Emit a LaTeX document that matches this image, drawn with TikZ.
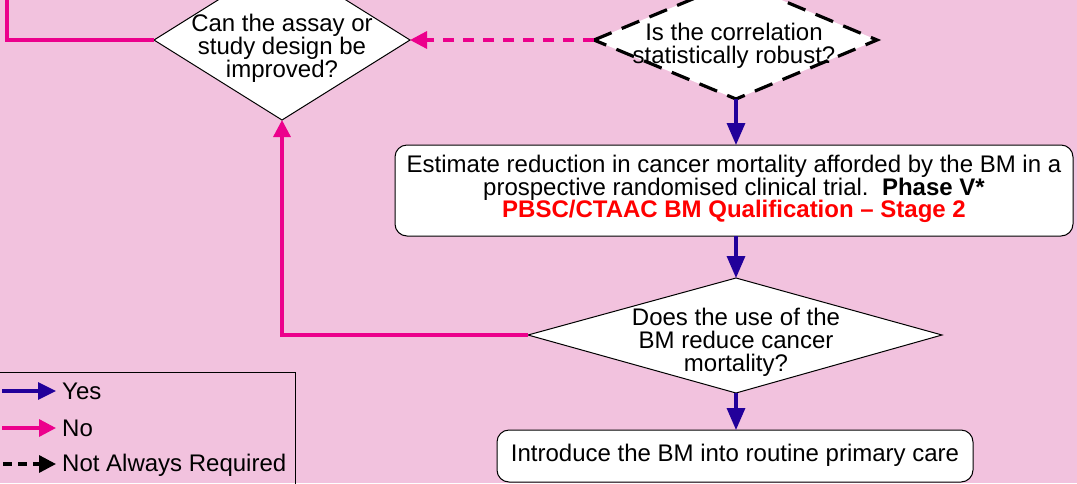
\documentclass[tikz,border=0pt]{standalone}
\usepackage{fontspec}
\setmainfont{Liberation Sans}
\usetikzlibrary{arrows.meta}
\definecolor{bg}{RGB}{242,194,222}
\definecolor{nopink}{RGB}{236,0,140}
\definecolor{yesblue}{RGB}{34,0,154}
\definecolor{qred}{RGB}{255,0,0}
\tikzset{
  x=1pt,y=-1pt,
  txt/.style={font=\fontsize{24}{22.8}\selectfont,align=center,inner sep=0pt},
  dia/.style={draw=black,fill=white,line width=1pt},
  diadash/.style={draw=black,fill=white,line width=3.2pt,dash pattern=on 19pt off 11pt},
  rbox/.style={draw=black,fill=white,line width=1pt,rounded corners=12pt},
  yesarrow/.style={draw=yesblue,line width=3.3pt,-{Triangle[length=22pt,width=18pt]}},
  noarrow/.style={draw=nopink,line width=3.3pt,-{Triangle[length=17pt,width=17pt]}},
  noline/.style={draw=nopink,line width=3.3pt},
  nodash/.style={noarrow,dash pattern=on 11pt off 9pt},
  blackdash/.style={draw=black,line width=3.3pt,dash pattern=on 9pt off 6pt,-{Triangle[length=17pt,width=17pt]}},
}
\begin{document}
\begin{tikzpicture}
\useasboundingbox (0,0) rectangle (1077,483);
\clip (0,0) rectangle (1077,483);
\fill[bg] (0,0) rectangle (1077,483);

% diamond 1: Can the assay...
\coordinate (d1l) at (154,40);
\coordinate (d1r) at (410,40);
\coordinate (d1b) at (282,120);
\coordinate (d1t) at (282,-40);
\path[dia] (d1l) -- (d1t) -- (d1r) -- (d1b) -- cycle;
\node[txt] (d1) at (282,48) {Can the assay or\\study design be\\improved?};

% diamond 2: Is the correlation...
\coordinate (d2l) at (594,40);
\coordinate (d2r) at (877,40);
\coordinate (d2b) at (736,99);
\coordinate (d2t) at (736,-19);
\path[diadash] (d2l) -- (d2t) -- (d2r) -- (d2b) -- cycle;
\node[txt] (d2) at (734,46) {Is the correlation\\statistically robust?};

% box 1
\node[rbox,minimum width=678pt,minimum height=91pt,inner sep=0pt] (b1) at (734,190.5) {};
\node[txt] (b1t) at (734,189) {Estimate reduction in cancer mortality afforded by the BM in a\\prospective randomised clinical trial.\ \ \textbf{Phase V*}\\\textcolor{qred}{\textbf{PBSC/CTAAC BM Qualification -- Stage 2}}};

% diamond 3
\coordinate (d3l) at (528,335);
\coordinate (d3r) at (942,335);
\coordinate (d3t) at (736,278);
\coordinate (d3b) at (736,393);
\path[dia] (d3l) -- (d3t) -- (d3r) -- (d3b) -- cycle;
\node[txt] (d3) at (736,342) {Does the use of the\\BM reduce cancer\\mortality?};

% box 2
\node[rbox,minimum width=476pt,minimum height=52pt,inner sep=0pt] (b2) at (735,456) {};
\node[txt] (b2t) at (735,455) {Introduce the BM into routine primary care};

% connectors
\coordinate (topleft) at (7,-5);
\draw[noline] (d1l) -- (7,40) -- (topleft);
\draw[nodash] (d2l) -- (d1r);
\draw[yesarrow] (d2b) -- (736,145);
\draw[yesarrow] (736,236) -- (d3t);
\draw[noarrow] (d3l) -- (282,335) -- (d1b);
\draw[yesarrow] (d3b) -- (736,430);

% legend
\node[draw=black,line width=1pt,minimum width=296pt,minimum height=130pt,inner sep=0pt,anchor=north west] (leg) at (-1,372) {};
\coordinate (ly1) at (2,391);
\coordinate (ly2) at (56,391);
\coordinate (ln1) at (2,428);
\coordinate (ln2) at (56,428);
\coordinate (lb1) at (3,464);
\coordinate (lb2) at (56,464);
\draw[draw=yesblue,line width=3.3pt,-{Triangle[length=18pt,width=17pt]}] (ly1) -- (ly2);
\draw[noarrow] (ln1) -- (ln2);
\draw[blackdash] (lb1) -- (lb2);
\node[txt,anchor=west] (lyes) at (62,391) {Yes};
\node[txt,anchor=west] (lno) at (62,428) {No};
\node[txt,anchor=west] (lnar) at (62,465) {Not Always Required};
\end{tikzpicture}
\end{document}
